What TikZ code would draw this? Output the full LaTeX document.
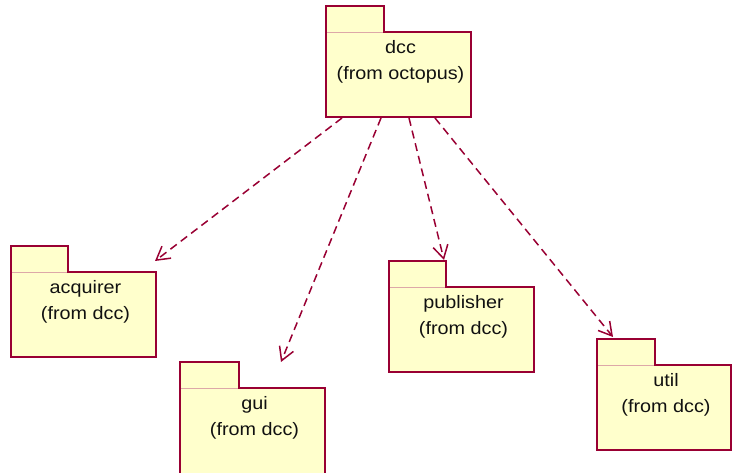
\documentclass[tikz,border=0pt]{standalone}
\usepackage{fontspec}
\setmainfont[FakeStretch=1.1]{Liberation Sans}
\usetikzlibrary{arrows.meta,calc}

\definecolor{pkgborder}{HTML}{990033}
\definecolor{pkgfill}{HTML}{FFFFCC}
\definecolor{pkgseam}{HTML}{DDA8A8}
\definecolor{pkgtext}{HTML}{111111}

% A UML package: folder body (named node) with a tab and two lines of text.
% #1 name, #2 top-left corner of the body, #3 width, #4 height, #5 tab width,
% #6 package name, #7 owner line
\newcommand{\umlpackage}[7]{%
  \node[pkgbody, minimum width=#3, minimum height=#4] (#1) at #2 {};
  \fill[pkgfill] (#1.north west) rectangle ++(#5,-26);
  \draw[pkgseam] (#1.north west) -- ++(#5,0);
  \draw[pkgedge] (#1.north west) -- ++(0,-26) -- ++(#5,0) -- ++(0,26)
    -- (#1.north east) -- (#1.south east) -- (#1.south west) -- cycle;
  \node[pkglabel] (#1-name)  at ($(#1.north)+(2,21.5)$) {#6};
  \node[pkglabel] (#1-owner) at ($(#1.north)+(2,47.5)$) {#7};
}

\tikzset{
  pkgbody/.style={anchor=north west, fill=pkgfill, draw=none,
    inner sep=0pt, outer sep=0pt},
  pkgedge/.style={draw=pkgborder, line width=1.8pt, line join=miter},
  pkgseam/.style={draw=pkgseam, line width=0.8pt},
  pkglabel/.style={anchor=base, inner sep=0pt, text=pkgtext,
    font=\fontsize{18}{21}\selectfont},
  depends/.style={draw=pkgborder, line width=1.5pt, dash pattern=on 8pt off 5pt,
    -{Straight Barb[length=13pt,width=15pt,line width=1.5pt]}},
}

\begin{document}
\begin{tikzpicture}[x=1pt, y=-1pt]
  \useasboundingbox (0,0) rectangle (732,473);

  % packages
  \umlpackage{dcc}{(326,32)}{145}{85}{58}{dcc}{(from octopus)}
  \umlpackage{acquirer}{(11,272)}{145}{85}{57}{acquirer}{(from dcc)}
  \umlpackage{gui}{(180,388)}{145}{92}{59}{gui}{(from dcc)}
  \umlpackage{publisher}{(389,287)}{145}{85}{57}{publisher}{(from dcc)}
  \umlpackage{util}{(597,365)}{134}{85}{58}{util}{(from dcc)}

  % dependencies of dcc on its sub-packages
  \draw[depends] ($(dcc.south west)+(16,1)$) -- ($(acquirer.north east)+(-1,-11)$);
  \draw[depends] ($(dcc.south west)+(55,1)$) -- ($(gui.north west)+(101,-26)$);
  \draw[depends] ($(dcc.south west)+(83,1)$) -- ($(publisher.north west)+(55,-27)$);
  \draw[depends] ($(dcc.south west)+(109,1)$) -- ($(util.north west)+(16,-28)$);
\end{tikzpicture}
\end{document}
